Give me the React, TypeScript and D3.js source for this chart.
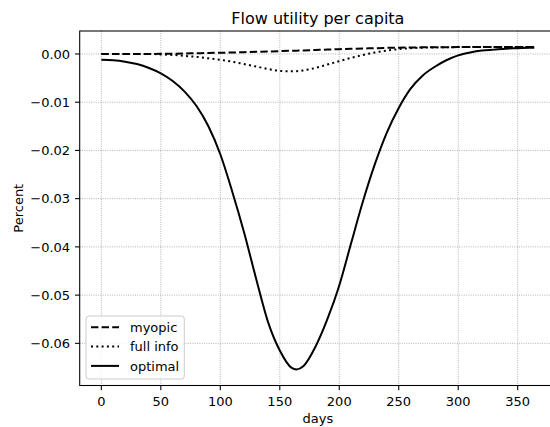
import { useEffect, useRef } from "react";
import * as d3 from "d3";

// days sampled along the year
const days = [
  0, 10, 20, 30, 40, 50, 60, 70, 80, 90, 100, 110, 120, 130, 140, 150, 160,
  164, 170, 180, 190, 200, 210, 220, 230, 240, 250, 260, 270, 280, 290, 300,
  310, 320, 330, 340, 350, 360, 364,
];

const myopic = [
  0, 0, 0, 0, 0.00001, 0.00003, 0.00006, 0.0001, 0.00015, 0.0002, 0.00025,
  0.0003, 0.00037, 0.00044, 0.0005, 0.00058, 0.00066, 0.00069, 0.00074,
  0.00083, 0.00092, 0.001, 0.00107, 0.00114, 0.0012, 0.00126, 0.0013,
  0.00134, 0.00137, 0.0014, 0.00141, 0.00142, 0.00142, 0.00142, 0.00142,
  0.00142, 0.00142, 0.00142, 0.00142,
];

const fullInfo = [
  0, 0, 0, 0, 0, -0.0001, -0.0002, -0.0004, -0.0006, -0.0009, -0.0012,
  -0.0016, -0.0021, -0.0026, -0.0031, -0.0035, -0.0036, -0.00358, -0.0034,
  -0.0029, -0.0022, -0.0015, -0.0008, -0.0002, 0.0003, 0.0007, 0.001, 0.0012,
  0.0013, 0.00135, 0.0014, 0.00142, 0.00142, 0.00142, 0.00142, 0.00142,
  0.00142, 0.00142, 0.00142,
];

const optimal = [
  -0.0012, -0.0013, -0.0016, -0.0021, -0.0029, -0.004, -0.0056, -0.0078,
  -0.0108, -0.015, -0.0208, -0.0285, -0.037, -0.0465, -0.0555, -0.0615,
  -0.0651, -0.0654, -0.0647, -0.0607, -0.055, -0.048, -0.0392, -0.0305,
  -0.0228, -0.0163, -0.0112, -0.0072, -0.0045, -0.0027, -0.0013, -0.0003,
  0.0003, 0.0007, 0.0009, 0.0011, 0.0012, 0.0013, 0.0013,
];

const xTicks = [0, 50, 100, 150, 200, 250, 300, 350];
const yTicks = [0, -0.01, -0.02, -0.03, -0.04, -0.05, -0.06];

const series = [
  { label: "myopic", values: myopic, dash: "7.4,3.2" },
  { label: "full info", values: fullInfo, dash: "2,3.3" },
  { label: "optimal", values: optimal, dash: null as string | null },
];

export default function App() {
  const svgRef = useRef<SVGSVGElement>(null);

  useEffect(() => {
    if (!svgRef.current) return;
    const svg = d3.select(svgRef.current);
    svg.selectAll("*").remove();

    const font = "DejaVu Sans, sans-serif";
    const left = 79.7;
    const right = 556;
    const top = 31;
    const bottom = 385.5;

    // matplotlib-style 5% margins
    const xMin = d3.min(days) as number;
    const xMax = d3.max(days) as number;
    const xPad = (xMax - xMin) * 0.05;
    const allY = [...myopic, ...fullInfo, ...optimal];
    const yMin = d3.min(allY) as number;
    const yMax = d3.max(allY) as number;
    const yPad = (yMax - yMin) * 0.05;

    const x = d3
      .scaleLinear()
      .domain([xMin - xPad, xMax + xPad])
      .range([left, right]);
    const y = d3
      .scaleLinear()
      .domain([yMin - yPad, yMax + yPad])
      .range([bottom, top]);

    // Grid
    const grid = svg.append("g");
    xTicks.forEach((t) => {
      grid
        .append("line")
        .attr("x1", x(t))
        .attr("x2", x(t))
        .attr("y1", top)
        .attr("y2", bottom)
        .attr("stroke", "#a0a0a0")
        .attr("stroke-width", 0.8)
        .attr("stroke-dasharray", "1,1.3");
    });
    yTicks.forEach((t) => {
      grid
        .append("line")
        .attr("x1", left)
        .attr("x2", right)
        .attr("y1", y(t))
        .attr("y2", y(t))
        .attr("stroke", "#a0a0a0")
        .attr("stroke-width", 0.8)
        .attr("stroke-dasharray", "1,1.3");
    });

    // Lines
    series.forEach((s) => {
      const line = d3
        .line<number>()
        .x((_, i) => x(days[i]))
        .y((d) => y(d))
        .curve(d3.curveMonotoneX);
      const p = svg
        .append("path")
        .datum(s.values)
        .attr("fill", "none")
        .attr("stroke", "#000")
        .attr("stroke-width", 2)
        .attr("d", line);
      if (s.dash) p.attr("stroke-dasharray", s.dash);
    });

    // Frame
    svg
      .append("rect")
      .attr("x", left)
      .attr("y", top)
      .attr("width", right - left)
      .attr("height", bottom - top)
      .attr("fill", "none")
      .attr("stroke", "#000")
      .attr("stroke-width", 1.07);

    // X axis ticks
    xTicks.forEach((t) => {
      svg
        .append("line")
        .attr("x1", x(t))
        .attr("x2", x(t))
        .attr("y1", bottom)
        .attr("y2", bottom + 4.7)
        .attr("stroke", "#000")
        .attr("stroke-width", 1.07);
      svg
        .append("text")
        .attr("x", x(t))
        .attr("y", bottom + 20.5)
        .attr("text-anchor", "middle")
        .style("font-family", font)
        .style("font-size", "13px")
        .text(d3.format("d")(t));
    });

    // Y axis ticks
    yTicks.forEach((t) => {
      svg
        .append("line")
        .attr("x1", left)
        .attr("x2", left - 4.7)
        .attr("y1", y(t))
        .attr("y2", y(t))
        .attr("stroke", "#000")
        .attr("stroke-width", 1.07);
      svg
        .append("text")
        .attr("x", left - 9.6)
        .attr("y", y(t))
        .attr("dy", "0.36em")
        .attr("text-anchor", "end")
        .style("font-family", font)
        .style("font-size", "13px")
        .text(d3.format(".2f")(t).replace("-", "\u2212"));
    });

    // Title and labels
    svg
      .append("text")
      .attr("x", (left + right) / 2)
      .attr("y", 24)
      .attr("text-anchor", "middle")
      .style("font-family", font)
      .style("font-size", "16px")
      .text("Flow utility per capita");

    svg
      .append("text")
      .attr("x", (left + right) / 2)
      .attr("y", 423)
      .attr("text-anchor", "middle")
      .style("font-family", font)
      .style("font-size", "13px")
      .text("days");

    svg
      .append("text")
      .attr("transform", `translate(22.5,${(top + bottom) / 2}) rotate(-90)`)
      .attr("text-anchor", "middle")
      .style("font-family", font)
      .style("font-size", "13px")
      .text("Percent");

    // Legend
    const legend = svg.append("g").attr("transform", "translate(86,316)");
    legend
      .append("rect")
      .attr("width", 98.3)
      .attr("height", 63)
      .attr("rx", 3)
      .attr("fill", "#fff")
      .attr("fill-opacity", 0.8)
      .attr("stroke", "#ccc")
      .attr("stroke-width", 1);
    series.forEach((s, i) => {
      const cy = 11.3 + i * 19.3;
      const l = legend
        .append("line")
        .attr("x1", 5)
        .attr("x2", 33)
        .attr("y1", cy)
        .attr("y2", cy)
        .attr("stroke", "#000")
        .attr("stroke-width", 2);
      if (s.dash) l.attr("stroke-dasharray", s.dash);
      legend
        .append("text")
        .attr("x", 44)
        .attr("y", cy)
        .attr("dy", "0.36em")
        .style("font-family", font)
        .style("font-size", "13px")
        .text(s.label);
    });
  }, []);

  return (
    <svg
      ref={svgRef}
      width={550}
      height={427}
      style={{ position: "absolute", left: 0, top: 0, background: "#fff" }}
    />
  );
}
